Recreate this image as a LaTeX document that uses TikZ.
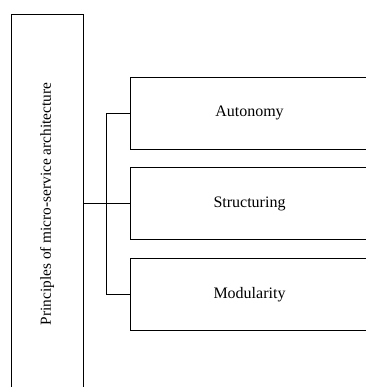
\documentclass[tikz,border=0pt]{standalone}
\usepackage{fontspec}
\setmainfont{Liberation Serif}
\usetikzlibrary{positioning}

\begin{document}
\begin{tikzpicture}[
  x=0.75pt, y=-0.75pt,
  line width=0.7pt,
  font=\fontsize{12}{14}\selectfont,
  mainbox/.style={
    draw,
    rectangle,
    minimum width=54pt,
    minimum height=285pt,
    inner sep=0pt,
    font=\fontsize{11.5}{14}\selectfont
    },
  subbox/.style={
    draw,
    rectangle,
    minimum width=178pt,
    minimum height=54pt,
    inner sep=0pt
    }
]

\path[use as bounding box, clip] (0,0) rectangle (366,387);

\node[mainbox] (principles) at (47,204)
  {\rotatebox{90}{Principles of micro-service architecture}};

\node[subbox] (autonomy) at (249.5,113) {Autonomy};
\node[subbox] [below=13.5pt of autonomy] (structuring) {Structuring};
\node[subbox] [below=13.5pt of structuring] (modularity) {Modularity};

% connectors
\draw (principles.east |- structuring.west) -- (structuring.west);
\draw (autonomy.west) -- ++(-24,0) |- (modularity.west);
\end{tikzpicture}
\end{document}
